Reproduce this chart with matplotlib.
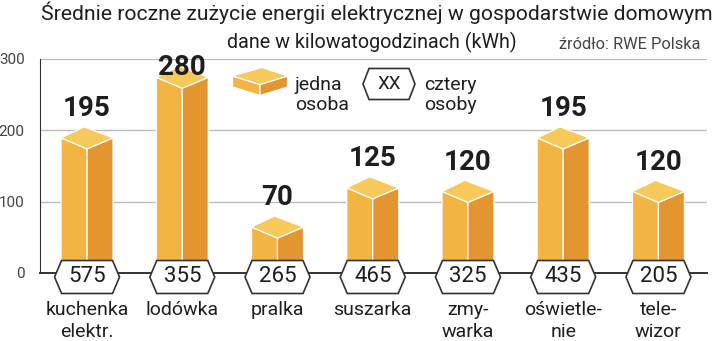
import matplotlib
matplotlib.use('Agg')
from matplotlib import pyplot as plt
from matplotlib.patches import Polygon

# zużycie w kWh: jedna osoba (słupki) i cztery osoby (sześciokąty)
categories = ['kuchenka\nelektr.', 'lodówka', 'pralka', 'suszarka',
              'zmy-\nwarka', 'oświetle-\nnie', 'tele-\nwizor']
one_person = [195, 280, 70, 125, 120, 195, 120]
four_people = [575, 355, 265, 465, 325, 435, 205]
y_ticks = [0, 100, 200, 300]

C_TOP = '#F6C95A'
C_LEFT = '#F2B544'
C_RIGHT = '#E3952F'
C_TEXT = '#1e1e1e'
FONT = ['Roboto', 'DejaVu Sans']

W, H = 720, 341
fig = plt.figure(figsize=(W / 100, H / 100), dpi=100)
ax = fig.add_axes([40 / W, 68 / H, 667 / W, 214 / H])
xmin, xmax = -0.494, 6.51
ax.set_xlim(xmin, xmax)
ax.set_ylim(0, 300)

# ile jednostek danych przypada na piksel
ux = (xmax - xmin) / 667
uy = 300 / 214

for s in ['top', 'right']:
    ax.spines[s].set_visible(False)
ax.spines['left'].set_color('#333333')
ax.spines['bottom'].set_color('#333333')
ax.spines['bottom'].set_linewidth(1.4)
ax.set_xticks([])
ax.set_yticks(y_ticks)
ax.set_yticklabels([str(t) for t in y_ticks], family=FONT, fontsize=11, color='#444444')
ax.tick_params(axis='y', length=0, pad=11)
for t in y_ticks[1:]:
    ax.axhline(t, color='#bdbdbd', lw=1, zorder=0)


def box(axis, cx, v, half_w, dx, dy, h_side):
    # słupek 3D: lewa ściana, prawa ściana, romb na górze
    left, right = cx - half_w, cx + half_w
    kw = dict(edgecolor='white', lw=0.9, clip_on=False, zorder=3)
    axis.add_patch(Polygon([(left, v - h_side), (left, v), (cx, v - dy),
                            (cx, v - dy - h_side)], facecolor=C_LEFT, **kw))
    axis.add_patch(Polygon([(cx, v - dy - h_side), (cx, v - dy), (right, v),
                            (right, v - h_side)], facecolor=C_RIGHT, **kw))
    axis.add_patch(Polygon([(left, v), (cx + dx, v + dy), (right, v), (cx, v - dy)],
                           facecolor=C_TOP, **kw))


def hexagon(axis, cx, cy, hw, hh, slant, text, size, lw=1.2):
    pts = [(cx - hw, cy), (cx - hw + slant, cy + hh), (cx + hw - slant, cy + hh),
           (cx + hw, cy), (cx + hw - slant, cy - hh), (cx - hw + slant, cy - hh)]
    axis.add_patch(Polygon(pts, facecolor='white', edgecolor='#333333', lw=lw,
                           clip_on=False, zorder=5))
    axis.text(cx, cy, text, ha='center', va='center', fontsize=size, family=FONT,
              color=C_TEXT, zorder=6, clip_on=False)


for i, (v1, v4, cat) in enumerate(zip(one_person, four_people, categories)):
    # boczne narożniki rombu nieco poniżej wartości, górny wierzchołek powyżej
    box(ax, i, v1 - 4 * uy, 26 * ux, -3 * ux, 11 * uy, v1 - 4 * uy)
    ax.text(i, min(v1 + 25, 277), str(v1), ha='center', va='baseline', fontsize=20,
            fontweight='bold', family=FONT, color=C_TEXT, zorder=7, clip_on=False)
    hexagon(ax, i, -4 * uy, 32.5 * ux, 16.5 * uy, 7 * ux, str(v4), 16)
    for k, line in enumerate(cat.split('\n')):
        ax.text(i, -(42 + 22 * k) * uy, line, ha='center', va='baseline', fontsize=14,
                family=FONT, color=C_TEXT, clip_on=False)

# nakładka w pikselach na tytuł i legendę
ov = fig.add_axes([0, 0, 1, 1], zorder=10)
ov.set_xlim(0, W)
ov.set_ylim(H, 0)
ov.axis('off')
ov.patch.set_alpha(0)

ov.text(377, 20, 'Średnie roczne zużycie energii elektrycznej w gospodarstwie domowym',
        ha='center', va='baseline', fontsize=15.2, family=FONT, color=C_TEXT)
ov.text(372, 48, 'dane w kilowatogodzinach (kWh)', ha='center', va='baseline',
        fontsize=14.2, family=FONT, color=C_TEXT)
ov.text(700, 49, 'źródło: RWE Polska', ha='right', va='baseline', fontsize=11.8,
        family=FONT, color='#444444')

# legenda
box(ov, 260, 76, 27.5, 2, -8.5, -11)
ov.text(295, 90, 'jedna', ha='left', va='baseline', fontsize=14, family=FONT, color=C_TEXT)
ov.text(295, 110, 'osoba', ha='left', va='baseline', fontsize=14, family=FONT, color=C_TEXT)
hexagon(ov, 389, 84, 26, -15.5, 6, 'XX', 13.5)
ov.text(424, 90, 'cztery', ha='left', va='baseline', fontsize=14, family=FONT, color=C_TEXT)
ov.text(424, 110, 'osoby', ha='left', va='baseline', fontsize=14, family=FONT, color=C_TEXT)

fig.savefig('out.png', dpi=100)
